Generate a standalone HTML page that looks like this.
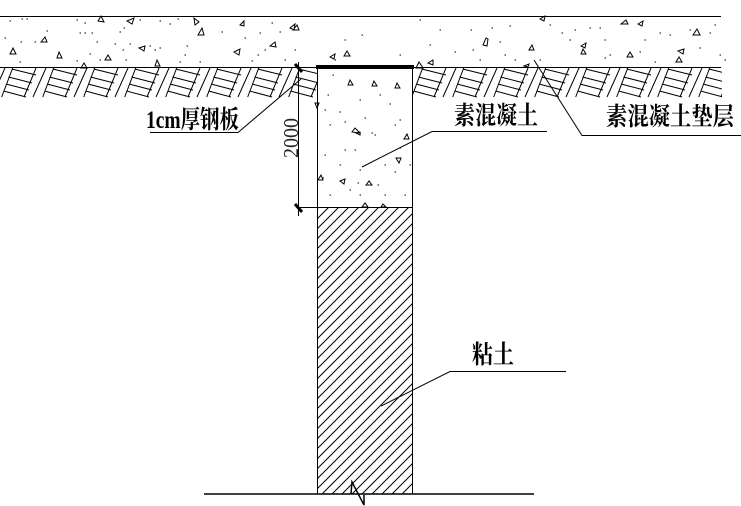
<!DOCTYPE html>
<html><head><meta charset="utf-8"><style>
html,body{margin:0;padding:0;background:#fff;width:741px;height:506px;overflow:hidden}
svg{display:block}
text{fill:#000;font-family:"Liberation Serif","Noto Serif CJK SC",serif;font-weight:700}
</style></head><body>
<svg width="741" height="506" viewBox="0 0 741 506" xmlns="http://www.w3.org/2000/svg">
<defs>
<g id="s" fill="none" stroke="#000" stroke-width="1">
<path d="M12.7 68L1.7 97M36 68L24 97M46 68L33 97M11.7 69L36 75M8.5 77L32 83M6 84L29 90M3.5 91L26 97"/>
</g>
<pattern id="h" width="10" height="10" patternUnits="userSpaceOnUse" patternTransform="translate(318 208)">
<path d="M-2 12L12 -2M-2 2L2 -2M8 12L12 8" stroke="#000" stroke-width="1" fill="none"/>
</pattern>
<clipPath id="c"><rect x="0" y="68" width="722" height="32"/></clipPath>
<clipPath id="k"><rect x="0" y="0" width="318" height="100"/><rect x="413" y="0" width="328" height="100"/></clipPath>
</defs>
<rect width="741" height="506" fill="#fff"/>
<g clip-path="url(#c)"><g clip-path="url(#k)">
<use href="#s" x="-41"/><use href="#s" x="0"/><use href="#s" x="41"/><use href="#s" x="82"/><use href="#s" x="123"/><use href="#s" x="164"/><use href="#s" x="205"/><use href="#s" x="246"/><use href="#s" x="287"/><use href="#s" x="410"/><use href="#s" x="451"/><use href="#s" x="492"/><use href="#s" x="533"/><use href="#s" x="574"/><use href="#s" x="615"/><use href="#s" x="656"/><use href="#s" x="697"/>
</g></g>
<rect x="318" y="208" width="94" height="286" fill="url(#h)"/>
<path fill="none" stroke="#000" stroke-width="1" d="M0 16.5H721M0 67.5H721M317.5 68V494M412.5 68V494M298 207.5H412M298.5 62V216M150 132.5H238L301 79M362 167L432 131.5H547M534 60L582 135.5H741M566 371.5H450L381 406"/>
<path fill="none" stroke="#000" stroke-width="1.5" d="M204 494H534M351 494L352 482L364 505V495"/>
<path fill="none" stroke="#000" stroke-width="4" d="M316 67H414"/>
<path fill="none" stroke="#000" stroke-width="3" d="M295 64L302 72M295 204L302 212"/>
<path fill="none" stroke="#000" stroke-width="1" d="M98 21l3-5 3 6zM127 21l7-3-2 6zM194 18l5 4-4 3zM198 35l4-7 2 7zM240 25l4-4 0 5zM290 28l5-4-1 6zM41 42l4-5 2 5zM10 54l3-6 3 6zM57 58l2-6 3 6zM105 60l3-5 3 5zM139 48l6-2-1 5zM155 66l2-6 3 6zM81 68l3-5 3 5zM234 52l6-3-1 6zM270 46l5-4 1 5zM293 30l4-5 2 5zM540 19l5-3-1 5zM621 24l5-4 2 4zM638 24l5-3-1 5zM693 35l4-6 3 6zM483 45l3-7 2 1-1 7zM529 50l3-5 2 5zM581 46l5-3-1 5zM581 54l2-5 3 5zM627 57l3-5 3 5zM678 51l6-2-1 5zM676 62l3-5 3 5zM524 66l5-2-1 3zM330 57l5-3-1 5zM344 56l3-5 3 5zM416 68l3-6 4 6zM428 63l5-3 0 5zM348 85l2-5 3 5zM372 86l2-5 3 5zM395 88l2-5 3 5zM315 103l4 0-2 5zM352 132l3-4 5 5zM356 133l4-1 0 3zM404 139l3-5 2 5zM396 158l5 0-2 5zM318 180l3-5 2 5zM340 181l5-2-1 5zM366 185l3-4 3 4zM362 207l3-4 3 4zM381 207l2-3 3 3z"/>
<path fill="none" stroke="#000" stroke-width="1" stroke-linecap="square" d="M10 21h.5M22 19h.5M27 19h.5M47 31h.5M5 38h.5M21 42h.5M35 42h.5M20 62h.5M77 20h.5M85 23h.5M124 28h.5M120 32h.5M140 20h.5M160 21h.5M170 24h.5M178 19h.5M80 33h.5M85 33h.5M92 33h.5M97 42h.5M115 44h.5M123 50h.5M90 54h.5M77 61h.5M100 60h.5M126 60h.5M130 44h.5M150 46h.5M155 50h.5M160 48h.5M187 46h.5M185 55h.5M222 32h.5M245 38h.5M260 33h.5M272 23h.5M280 32h.5M258 55h.5M265 50h.5M285 60h.5M295 50h.5M252 61h.5M200 62h.5M180 62h.5M471 30h.5M480 60h.5M492 28h.5M510 26h.5M500 42h.5M473 50h.5M505 55h.5M515 60h.5M540 60h.5M550 25h.5M562 33h.5M570 40h.5M575 30h.5M590 28h.5M600 28h.5M605 40h.5M610 55h.5M640 52h.5M645 40h.5M660 33h.5M670 35h.5M690 30h.5M700 48h.5M710 33h.5M715 25h.5M720 55h.5M725 60h.5M605 58h.5M655 62h.5M333 75h.5M335 60h.5M345 40h.5M362 35h.5M400 55h.5M420 20h.5M440 30h.5M430 45h.5M455 52h.5M325 110h.5M328 95h.5M330 125h.5M345 122h.5M340 112h.5M360 100h.5M365 118h.5M380 95h.5M390 104h.5M400 120h.5M395 125h.5M372 133h.5M345 150h.5M325 155h.5M355 150h.5M360 170h.5M375 135h.5M385 165h.5M395 172h.5M410 165h.5M400 148h.5M330 195h.5M350 190h.5M360 195h.5M385 195h.5M405 195h.5M340 165h.5M323 178h.5M378 185h.5M358 183h.5"/>
<text x="146" y="128" font-size="25" textLength="93" lengthAdjust="spacingAndGlyphs">1cm厚钢板</text>
<text x="454" y="124" font-size="25" textLength="84" lengthAdjust="spacingAndGlyphs">素混凝土</text>
<text x="606" y="125" font-size="25" textLength="128" lengthAdjust="spacingAndGlyphs">素混凝土垫层</text>
<text x="472" y="363" font-size="25" textLength="42" lengthAdjust="spacingAndGlyphs">粘土</text>
<text transform="translate(298 158) rotate(-90)" font-size="21" textLength="40" lengthAdjust="spacingAndGlyphs" style="font-weight:400;fill:#222">2000</text>
</svg>
</body></html>
